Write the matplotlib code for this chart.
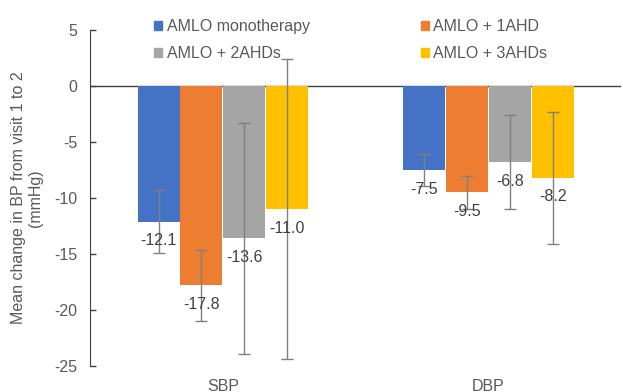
import matplotlib.pyplot as plt
import numpy as np
from matplotlib.patches import Patch

plt.rcParams['font.family'] = ['Liberation Sans', 'DejaVu Sans']
plt.rcParams['axes.unicode_minus'] = False

groups = ['SBP', 'DBP']
series = ['AMLO monotherapy', 'AMLO + 1AHD', 'AMLO + 2AHDs', 'AMLO + 3AHDs']
means = {
    'AMLO monotherapy': [-12.1, -7.5],
    'AMLO + 1AHD': [-17.8, -9.5],
    'AMLO + 2AHDs': [-13.6, -6.8],
    'AMLO + 3AHDs': [-11.0, -8.2],
}
errs = {
    'AMLO monotherapy': [2.8, 1.4],
    'AMLO + 1AHD': [3.2, 1.5],
    'AMLO + 2AHDs': [10.3, 4.2],
    'AMLO + 3AHDs': [13.4, 5.9],
}
colors = ['#4472C4', '#ED7D31', '#A5A5A5', '#FFC000']

txt = '#595959'
fs = 11.5

fig = plt.figure(figsize=(6.23, 3.92), dpi=100)
ax = fig.add_axes([0.1445, 0.0663, 0.853, 0.857])

x = np.arange(len(groups))
w = 0.158
step = 0.161
for i, (name, c) in enumerate(zip(series, colors)):
    pos = x + (i - 1.5) * step
    vals = means[name]
    ax.bar(pos, vals, width=w, color=c, zorder=2)
    ax.errorbar(pos, vals, yerr=errs[name], fmt='none', ecolor='#808080',
                elinewidth=1, capsize=4, capthick=1, zorder=3)
    for p, v in zip(pos, vals):
        ax.annotate(f'{v:.1f}', (p, v), xytext=(0, -19), textcoords='offset pixels',
                    ha='center', va='center', fontsize=fs, color='#404040', zorder=4)

ax.set_xlim(-0.5, 1.5)
ax.set_ylim(-25, 5)
ax.set_yticks(np.arange(-25, 6, 5))
ax.axhline(0, color='#404040', lw=1, zorder=1)

for s in ['top', 'right', 'bottom']:
    ax.spines[s].set_visible(False)
ax.spines['left'].set_color('#404040')
ax.tick_params(axis='y', direction='in', length=4, width=1, color='#404040',
               labelsize=fs, labelcolor=txt, pad=9)
ax.tick_params(axis='x', length=0, labelsize=fs, labelcolor=txt, pad=9)
ax.set_xticks(x)
ax.set_xticklabels(groups)

ax.set_ylabel('Mean change in BP from visit 1 to 2\n(mmHg)', fontsize=fs,
              color=txt, labelpad=8)

# legend fills row by row: reorder for column-first layout
order = [0, 2, 1, 3]
handles = [Patch(color=colors[k]) for k in order]
labels = [series[k] for k in order]
fig.legend(handles, labels, ncol=2, loc='upper left', bbox_to_anchor=(0.224, 0.988),
           frameon=False, fontsize=fs, labelcolor=txt, handlelength=0.5,
           handleheight=0.5, handletextpad=0.3, columnspacing=6.95, labelspacing=0.75)

fig.savefig('out.png', dpi=100)
